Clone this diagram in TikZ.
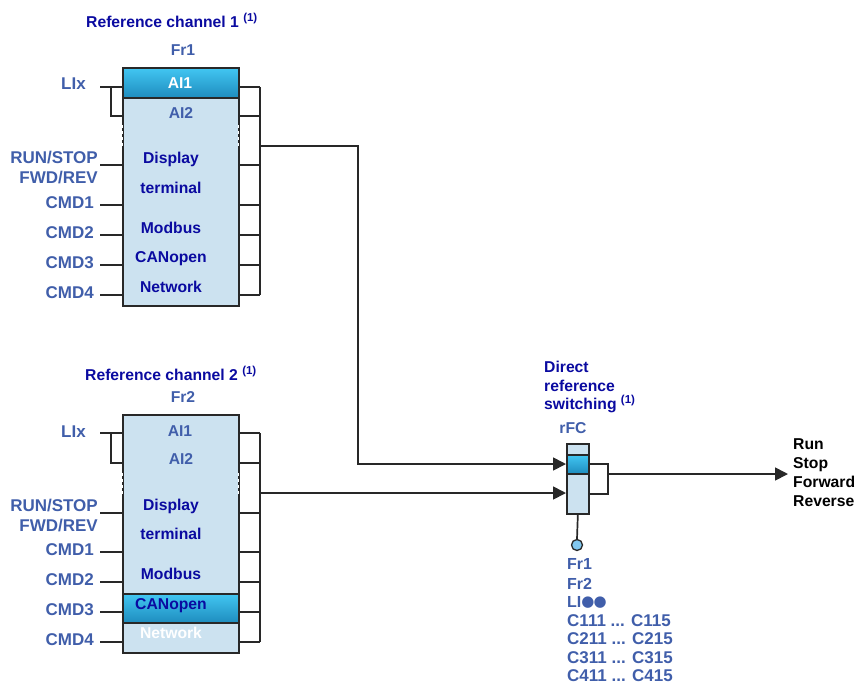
\documentclass[tikz,border=0pt]{standalone}
\usepackage{fontspec}
\setmainfont{Liberation Sans}
\newfontfamily\symfont{DejaVu Sans}
\usetikzlibrary{arrows.meta}
\definecolor{dkblue}{RGB}{10,10,160}
\definecolor{stblue}{RGB}{64,94,170}
\definecolor{boxfill}{RGB}{204,226,240}
\definecolor{hitop}{RGB}{66,198,242}
\definecolor{hibot}{RGB}{30,140,190}
\definecolor{linec}{RGB}{40,40,40}
\definecolor{dotfill}{RGB}{130,200,240}
\tikzset{
  txt/.style={inner sep=0pt, text height=11.2pt, text depth=0pt, font=\bfseries\fontsize{15.7}{19}\selectfont},
  inbox/.style={txt, text=dkblue},
  lbl/.style={txt, text=stblue, font=\bfseries\fontsize{17}{19}\selectfont, text height=12.2pt},
  blockbox/.style={draw=linec, fill=boxfill, line width=1.7pt, inner sep=0pt, anchor=north west},
  hiband/.style={draw=linec, top color=hitop, bottom color=hibot, line width=1.7pt, inner sep=0pt, anchor=north west},
  conn/.style={draw=linec, line width=1.7pt},
  arr/.style={conn, -{Triangle[length=13pt,width=13pt]}},
  gapdash/.style={draw=white, line width=1pt, dash pattern=on 3pt off 3pt},
}
\begin{document}
\begin{tikzpicture}[x=1pt,y=-1pt]
\useasboundingbox (0,0) rectangle (858,685);

% ---------------- Block 1 ----------------
\node[txt, text=dkblue, anchor=west] (t1) at (86,22) {Reference channel 1 \raisebox{6pt}{\fontsize{11.5}{12}\selectfont(1)}};
\node[txt, text=stblue] (fr1) at (183,50) {Fr1};
\node[blockbox, minimum width=116pt, minimum height=238pt] (b1) at (122,67) {};
\node[hiband, minimum width=116pt, minimum height=30pt] (h1) at (122,67) {};
\draw[gapdash] (122,125) -- (122,147);
\draw[gapdash] (238,125) -- (238,147);
\node[txt, text=white] (b1ai1) at (180,83) {AI1};
\node[txt, text=stblue] (b1ai2) at (181,113) {AI2};
\node[inbox] (b1d) at (171,158) {Display};
\node[inbox] (b1t) at (171,188) {terminal};
\node[inbox] (b1m) at (171,228) {Modbus};
\node[inbox] (b1c) at (171,257) {CANopen};
\node[inbox] (b1n) at (171,287) {Network};

\node[lbl, anchor=east] (l1lix) at (86,83) {LIx};
\node[lbl, anchor=east] (l1run) at (98,157) {RUN/STOP};
\node[lbl, anchor=east] (l1fwd) at (98,177) {FWD/REV};
\node[lbl, anchor=east] (l1c1) at (94,202) {CMD1};
\node[lbl, anchor=east] (l1c2) at (94,232) {CMD2};
\node[lbl, anchor=east] (l1c3) at (94,262) {CMD3};
\node[lbl, anchor=east] (l1c4) at (94,292) {CMD4};

\foreach \n/\y in {lix/87, run/165, c1/205, c2/235, c3/265, c4/295} {
  \coordinate (p1\n) at (100,\y);
  \draw[conn] (p1\n) -- (p1\n -| b1.west);
}
\coordinate (j1) at (111,87);
\coordinate (q1) at (111,116);
\draw[conn] (j1) -- (q1) -- (q1 -| b1.west);
\coordinate (bus1t) at (260,87);
\coordinate (bus1b) at (260,295);
\foreach \y in {87,116,165,205,235,265,295} {
  \draw[conn] (b1.east |- 0,\y) -- (bus1t |- 0,\y);
}
\draw[conn] (bus1t) -- (bus1b);

% ---------------- Block 2 ----------------
\node[txt, text=dkblue, anchor=west] (t2) at (85,375) {Reference channel 2 \raisebox{6pt}{\fontsize{11.5}{12}\selectfont(1)}};
\node[txt, text=stblue] (fr2) at (183,397) {Fr2};
\node[blockbox, minimum width=116pt, minimum height=238pt] (b2) at (122,414) {};
\node[hiband, minimum width=116pt, minimum height=29pt] (h2) at (122,593) {};
\draw[gapdash] (122,473) -- (122,494);
\draw[gapdash] (238,473) -- (238,494);
\node[txt, text=stblue] (b2ai1) at (180,431) {AI1};
\node[txt, text=stblue] (b2ai2) at (181,459) {AI2};
\node[inbox] (b2d) at (171,505) {Display};
\node[inbox] (b2t) at (171,534) {terminal};
\node[inbox] (b2m) at (171,574) {Modbus};
\node[inbox] (b2c) at (171,604) {CANopen};
\node[txt, text=white] (b2n) at (171,633) {Network};

\node[lbl, anchor=east] (l2lix) at (86,431) {LIx};
\node[lbl, anchor=east] (l2run) at (98,505) {RUN/STOP};
\node[lbl, anchor=east] (l2fwd) at (98,525) {FWD/REV};
\node[lbl, anchor=east] (l2c1) at (94,549) {CMD1};
\node[lbl, anchor=east] (l2c2) at (94,579) {CMD2};
\node[lbl, anchor=east] (l2c3) at (94,609) {CMD3};
\node[lbl, anchor=east] (l2c4) at (94,639) {CMD4};

\foreach \n/\y in {lix/433, run/513, c1/552, c2/582, c3/612, c4/642} {
  \coordinate (p2\n) at (100,\y);
  \draw[conn] (p2\n) -- (p2\n -| b2.west);
}
\coordinate (j2) at (111,433);
\coordinate (q2) at (111,463);
\draw[conn] (j2) -- (q2) -- (q2 -| b2.west);
\coordinate (bus2t) at (260,433);
\coordinate (bus2b) at (260,642);
\foreach \y in {433,463,513,552,582,612,642} {
  \draw[conn] (b2.east |- 0,\y) -- (bus2t |- 0,\y);
}
\draw[conn] (bus2t) -- (bus2b);

% ---------------- Switch ----------------
\node[txt, text=dkblue, anchor=west] (ds1) at (544,367) {Direct};
\node[txt, text=dkblue, anchor=west] (ds2) at (544,386) {reference};
\node[txt, text=dkblue, anchor=west] (ds3) at (544,404) {switching \raisebox{6pt}{\fontsize{11.5}{12}\selectfont(1)}};
\node[txt, text=stblue] (rfc) at (573,428) {rFC};
\node[blockbox, minimum width=22pt, minimum height=70pt] (sw) at (566,443) {};
\node[hiband, minimum width=22pt, minimum height=19pt] (swh) at (566,454) {};

\coordinate (o1) at (260,146);
\coordinate (k1) at (358,464);
\coordinate (in1) at (sw.west |- 0,464);
\draw[arr] (o1) -| (k1) -- (in1);
\coordinate (o2) at (260,493);
\coordinate (in2) at (sw.west |- 0,493);
\draw[arr] (o2) -- (in2);

\coordinate (lp1) at (608,464);
\coordinate (lp2) at (608,494);
\draw[conn] (sw.east |- lp1) -- (lp1) -- (lp2) -- (sw.east |- lp2);
\coordinate (r1) at (608,474);
\coordinate (outp) at (788,474);
\draw[arr] (r1) -- (outp);

\node[txt, text=black, anchor=west] (run) at (793,444) {Run};
\node[txt, text=black, anchor=west] (stop) at (793,463) {Stop};
\node[txt, text=black, anchor=west] (fwd) at (793,482) {Forward};
\node[txt, text=black, anchor=west] (rev) at (793,501) {Reverse};

\node[circle, draw=linec, fill=dotfill, line width=1.3pt, minimum size=11pt, inner sep=0pt] (dot) at (577,545) {};
\draw[conn] (sw.south) -- (dot.north);

\node[lbl, anchor=west, font=\bfseries\fontsize{16}{19}\selectfont] (s1) at (567,563) {Fr1};
\node[lbl, anchor=west, font=\bfseries\fontsize{16}{19}\selectfont] (s2) at (567,583) {Fr2};
\node[lbl, anchor=west, font=\bfseries\fontsize{16}{19}\selectfont] (s3) at (567,601) {LI{\symfont\fontsize{15}{15}\selectfont\raisebox{0.5pt}{●\kern-1pt●}}};
\node[lbl, anchor=west] (s4) at (567,620) {C111 ... C115};
\node[lbl, anchor=west] (s5) at (567,638) {C211 ... C215};
\node[lbl, anchor=west] (s6) at (567,657) {C311 ... C315};
\node[lbl, anchor=west] (s7) at (567,675) {C411 ... C415};
\end{tikzpicture}
\end{document}
